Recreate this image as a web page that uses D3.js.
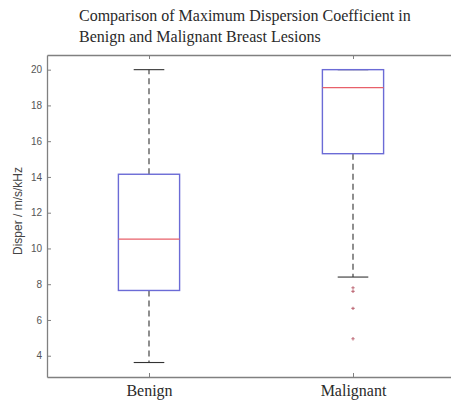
<!DOCTYPE html>
<html>
<head>
<meta charset="utf-8">
<script src="https://cdn.jsdelivr.net/npm/d3@7"></script>
<style>
  body { margin: 0; background: #fff; }
  svg { display: block; }
</style>
</head>
<body>
<svg id="chart" width="451" height="403"></svg>
<script>
const WIDTH = 451;
const HEIGHT = 403;
const PLOT = { left: 47, right: 455, top: 55, bottom: 377 };

// data
const categories = ["Benign", "Malignant"];
const whiskerLow = [3.62, 8.4];
const q1 = [7.65, 15.3];
const medians = [10.52, 19.0];
const q3 = [14.15, 20.0];
const whiskerHigh = [20.0, 20.0];
const outliers = [[], [7.8, 7.6, 6.65, 4.95]];
const yTicks = [4, 6, 8, 10, 12, 14, 16, 18, 20];
const titleLines = ["Comparison of Maximum Dispersion Coefficient in", "Benign and Malignant Breast Lesions"];

const BOX_HALF = 0.15;
const CAP_HALF = 0.075;

let svg = d3.select("#chart");

let x = d3.scaleLinear().domain([0.5, 2.5]).range([PLOT.left, PLOT.right]);
let y = d3.scaleLinear().domain([2.81, 20.82]).range([PLOT.bottom, PLOT.top]);

// title
svg.append("g")
  .selectAll("text")
  .data(titleLines)
  .join("text")
  .attr("x", 79)
  .attr("y", (d, i) => 21 + i * 21)
  .style("font-family", "'Liberation Serif', 'Times New Roman', serif")
  .style("font-size", "16px")
  .style("fill", "#2a2a2a")
  .text(d => d);

// axes, MATLAB style box with inner ticks
let axisColor = "#808080";

let leftAxis = svg.append("g")
  .attr("transform", `translate(${PLOT.left},0)`)
  .call(d3.axisLeft(y).tickValues(yTicks).tickSizeInner(-4).tickSizeOuter(0).tickPadding(5));

let rightAxis = svg.append("g")
  .attr("transform", `translate(${PLOT.right},0)`)
  .call(d3.axisRight(y).tickValues(yTicks).tickSizeInner(-4).tickSizeOuter(0).tickFormat(""));

let bottomAxis = svg.append("g")
  .attr("transform", `translate(0,${PLOT.bottom})`)
  .call(d3.axisBottom(x).tickValues([1, 2]).tickSizeInner(-4).tickSizeOuter(0).tickPadding(8)
    .tickFormat(d => categories[d - 1]));

let topAxis = svg.append("g")
  .attr("transform", `translate(0,${PLOT.top})`)
  .call(d3.axisTop(x).tickValues([1, 2]).tickSizeInner(-4).tickSizeOuter(0).tickFormat(""));

for (let g of [leftAxis, rightAxis, bottomAxis, topAxis]) {
  g.select(".domain").style("stroke", axisColor).style("stroke-width", 1.3);
  g.selectAll(".tick line").style("stroke", axisColor).style("stroke-width", 1);
}

leftAxis.selectAll(".tick text")
  .style("font-family", "'Liberation Sans', Arial, sans-serif")
  .style("font-size", "10px")
  .style("fill", "#555");

bottomAxis.selectAll(".tick text")
  .style("font-family", "'Liberation Serif', 'Times New Roman', serif")
  .style("font-size", "16px")
  .style("fill", "#2a2a2a");

// y label
svg.append("text")
  .attr("transform", `translate(22,${(PLOT.top + PLOT.bottom) / 2 - 5}) rotate(-90)`)
  .attr("text-anchor", "middle")
  .style("font-family", "'Liberation Sans', Arial, sans-serif")
  .style("font-size", "12px")
  .style("fill", "#444")
  .text("Disper / m/s/kHz");

// boxes
let idx = categories.map((c, i) => i);
let boxes = svg.append("g");

// whiskers (dashed)
boxes.selectAll("line.whisker-hi")
  .data(idx)
  .join("line")
  .attr("class", "whisker-hi")
  .attr("x1", i => x(i + 1)).attr("x2", i => x(i + 1))
  .attr("y1", i => y(q3[i])).attr("y2", i => y(whiskerHigh[i]))
  .style("stroke", "#333").style("stroke-width", 1.1)
  .style("stroke-dasharray", "6,4");

boxes.selectAll("line.whisker-lo")
  .data(idx)
  .join("line")
  .attr("class", "whisker-lo")
  .attr("x1", i => x(i + 1)).attr("x2", i => x(i + 1))
  .attr("y1", i => y(q1[i])).attr("y2", i => y(whiskerLow[i]))
  .style("stroke", "#333").style("stroke-width", 1.1)
  .style("stroke-dasharray", "6,4");

// caps
boxes.selectAll("line.cap-hi")
  .data(idx)
  .join("line")
  .attr("class", "cap-hi")
  .attr("x1", i => x(i + 1 - CAP_HALF)).attr("x2", i => x(i + 1 + CAP_HALF))
  .attr("y1", i => y(whiskerHigh[i])).attr("y2", i => y(whiskerHigh[i]))
  .style("stroke", "#333").style("stroke-width", 1.1);

boxes.selectAll("line.cap-lo")
  .data(idx)
  .join("line")
  .attr("class", "cap-lo")
  .attr("x1", i => x(i + 1 - CAP_HALF)).attr("x2", i => x(i + 1 + CAP_HALF))
  .attr("y1", i => y(whiskerLow[i])).attr("y2", i => y(whiskerLow[i]))
  .style("stroke", "#333").style("stroke-width", 1.1);

// box rectangles drawn over the caps
boxes.selectAll("rect")
  .data(idx)
  .join("rect")
  .attr("x", i => x(i + 1 - BOX_HALF))
  .attr("width", i => x(i + 1 + BOX_HALF) - x(i + 1 - BOX_HALF))
  .attr("y", i => y(q3[i]))
  .attr("height", i => y(q1[i]) - y(q3[i]))
  .style("fill", "none")
  .style("stroke", "#6b6bd6")
  .style("stroke-width", 1.4);

// medians
boxes.selectAll("line.median")
  .data(idx)
  .join("line")
  .attr("class", "median")
  .attr("x1", i => x(i + 1 - BOX_HALF)).attr("x2", i => x(i + 1 + BOX_HALF))
  .attr("y1", i => y(medians[i])).attr("y2", i => y(medians[i]))
  .style("stroke", "#e8606a").style("stroke-width", 1.2);

// outliers as small red plus marks
let pts = [];
outliers.forEach((vals, i) => vals.forEach(v => pts.push({ i: i, v: v })));

let sym = d3.symbol().type(d3.symbolCross).size(6);
boxes.selectAll("path.outlier")
  .data(pts)
  .join("path")
  .attr("class", "outlier")
  .attr("transform", d => `translate(${x(d.i + 1)},${y(d.v)})`)
  .attr("d", sym)
  .style("fill", "#b04a5a")
  .style("opacity", 0.8);
</script>
</body>
</html>
